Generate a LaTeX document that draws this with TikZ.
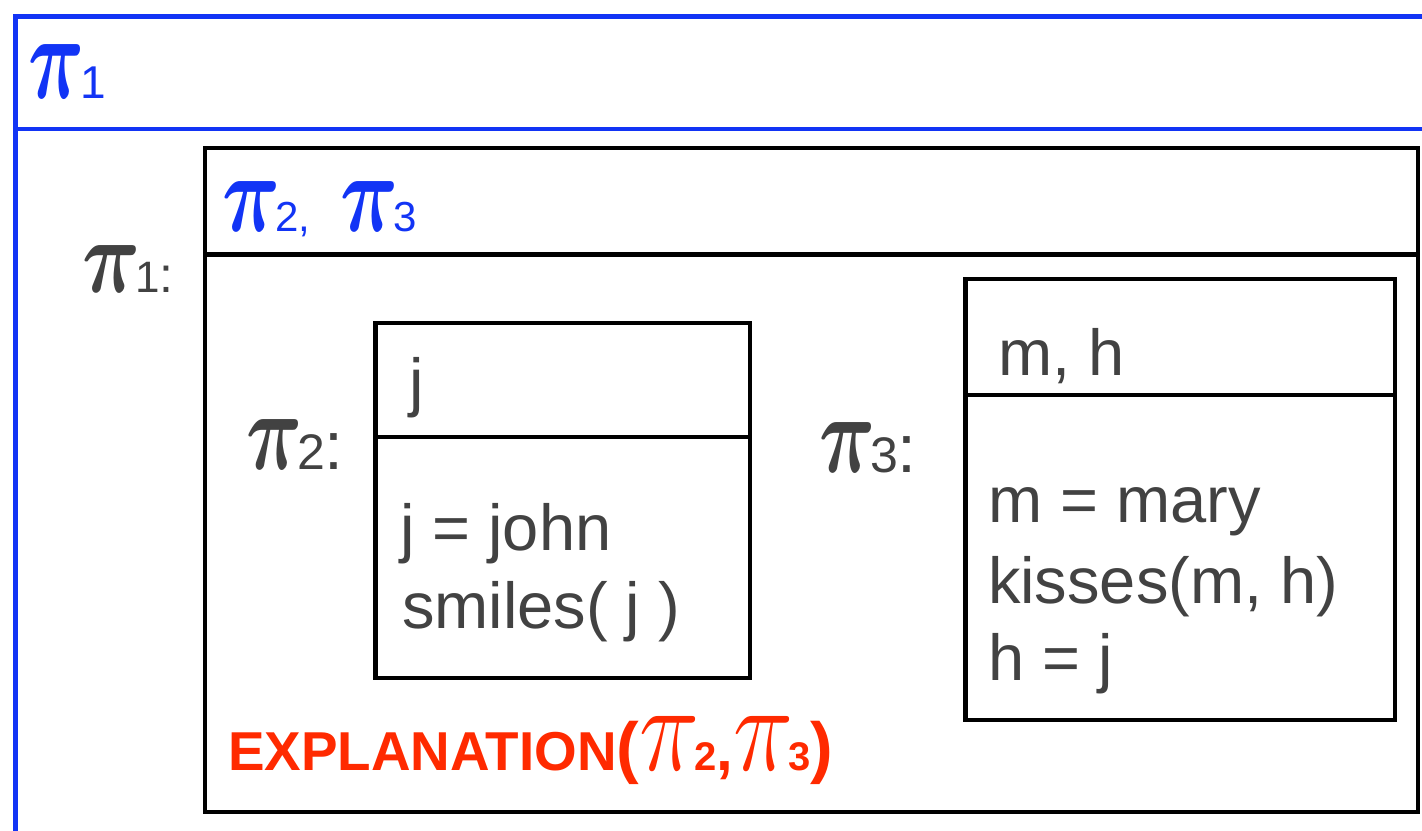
\documentclass[tikz,border=0pt]{standalone}
\usepackage{fontspec}
\usepackage{amsmath,bm}
\setmainfont{Liberation Sans}
\definecolor{drsblue}{RGB}{18,52,245}
\definecolor{drsgray}{RGB}{66,66,66}
\definecolor{drsred}{RGB}{255,42,0}
\newcommand{\rpi}[2]{\resizebox{#1pt}{#2pt}{$\pi$}}
\newcommand{\bpi}[2]{\resizebox{#1pt}{#2pt}{$\bm{\pi}$}}
\newcommand{\fs}[1]{\fontsize{#1pt}{#1pt}\selectfont}
\begin{document}
\begin{tikzpicture}[x=0.5pt,y=-0.5pt,
  txt/.style={anchor=base west,inner sep=0pt,outer sep=0pt,text=drsgray,font=\fs{32.5}},
  bluerule/.style={draw=drsblue,line width=2.3pt},
  blackrule/.style={draw=black,line width=2.4pt}]
\useasboundingbox (0,0) rectangle (1422,830);
\clip (0,0) rectangle (1422,830);
% outer box pi_1
\draw[bluerule] (1440,16.5) -- (15.5,16.5) -- (15.5,850);
\draw[bluerule] (15.5,129) -- (1440,129);
% inner box
\draw[blackrule] (205,148) rectangle (1418,812);
\draw[blackrule] (205,254.5) -- (1418,254.5);
% pi_2 box
\draw[blackrule] (375.5,323) rectangle (750,678);
\draw[blackrule] (375.5,437) -- (750,437);
% pi_3 box
\draw[blackrule] (965.5,279) rectangle (1395,720);
\draw[blackrule] (965.5,395) -- (1395,395);
% labels
\node[txt,text=drsblue] (h1) at (29,98) {\bpi{28}{27}\hspace{-2.5pt}{\fs{23}1}};
\node[txt,text=drsblue] (h23) at (222,231) {\bpi{29}{25}\hspace{-2.5pt}{\fs{21}2,}\hspace{15pt}\bpi{29}{25}\hspace{-2.5pt}{\fs{21}3}};
\node[txt] (l1) at (82,292) {\bpi{29}{23.5}\hspace{-2.5pt}{\fs{22}1}{\fs{25}:}};
\node[txt] (l2) at (246,469) {\bpi{28}{25}\hspace{-2.5pt}{\fs{25}2}{\fs{34}:}};
\node[txt] (l3) at (819,472) {\bpi{28}{25}\hspace{-2.5pt}{\fs{25}3}{\fs{34}:}};
% pi_2 contents
\node[txt] (v2) at (409,404) {j};
\node[txt] (c21) at (400,550) {j = john};
\node[txt] (c22) at (402,628) {smiles( j )};
% pi_3 contents
\node[txt] (v3) at (998,375) {m, h};
\node[txt] (c31) at (988,522) {m = mary};
\node[txt] (c32) at (988,603) {kisses(m, h)};
\node[txt] (c33) at (988,680) {h = j};
% relation
\node[txt,text=drsred] (rel) at (228,770) {{\bfseries\fs{27.4}EXPLANATION}{\bfseries\fs{34}(}\rpi{30}{27}\hspace{-2.5pt}{\bfseries\fs{20}2}{\bfseries\fs{30},}\rpi{30}{27}\hspace{-2.5pt}{\bfseries\fs{20}3}{\bfseries\fs{34})}};
\end{tikzpicture}
\end{document}
